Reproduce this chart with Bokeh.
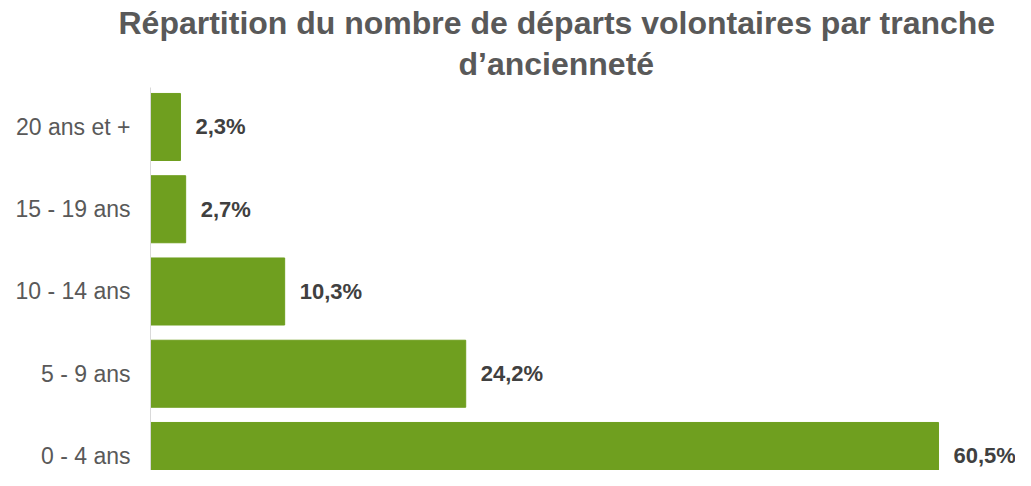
from bokeh.plotting import figure
from bokeh.models import Range1d, FixedTicker, Title, ColumnDataSource
from bokeh.embed import file_html
from bokeh.resources import INLINE
from bokeh.core.properties import value

categories = ["0 - 4 ans", "5 - 9 ans", "10 - 14 ans", "15 - 19 ans", "20 ans et +"]
shares = [60.5, 24.2, 10.3, 2.7, 2.3]
labels = ["60,5%", "24,2%", "10,3%", "2,7%", "2,3%"]
title_lines = ["Répartition du nombre de départs volontaires par tranche", "d’ancienneté"]

FONT = "Liberation Sans"
pos = list(range(len(categories)))
src = ColumnDataSource(dict(y=pos, v=shares, lab=labels))

p = figure(width=1015, height=470, output_backend="svg", toolbar_location=None,
           title=None,
           x_range=Range1d(0, 66.41), y_range=Range1d(-0.1763, 4.48),
           min_border_left=150, min_border_right=0, min_border_top=87, min_border_bottom=0)

p.hbar(y="y", left=0, right="v", height=0.815, source=src, color="#6F9F1F")
p.text(x="v", y="y", text="lab", source=src, x_offset=15, text_baseline="middle",
       text_align="left", text_font=value(FONT), text_font_style="bold",
       text_font_size="22px", text_color="#404040")

t2 = Title(text=title_lines[1], align="left", offset=308, text_font=FONT,
           text_font_style="bold", text_font_size="32px", text_color="#595959",
           standoff=11)
t1 = Title(text=title_lines[0], align="left", offset=-32, text_font=FONT,
           text_font_style="bold", text_font_size="32px", text_color="#595959",
           standoff=-4)
p.add_layout(t2, "above")
p.add_layout(t1, "above")

p.xaxis.visible = False
p.xgrid.visible = False
p.ygrid.visible = False
p.outline_line_color = None

ax = p.yaxis[0]
ax.ticker = FixedTicker(ticks=pos)
ax.major_label_overrides = {i: c for i, c in zip(pos, categories)}
ax.major_tick_out = 0
ax.major_tick_in = 0
ax.minor_tick_out = 0
ax.minor_tick_in = 0
ax.major_label_standoff = 20
ax.axis_line_color = "#D9D9D9"
ax.major_label_text_font = FONT
ax.major_label_text_font_size = "23px"
ax.major_label_text_color = "#595959"

open("out.html", "w").write(file_html(p, INLINE))
